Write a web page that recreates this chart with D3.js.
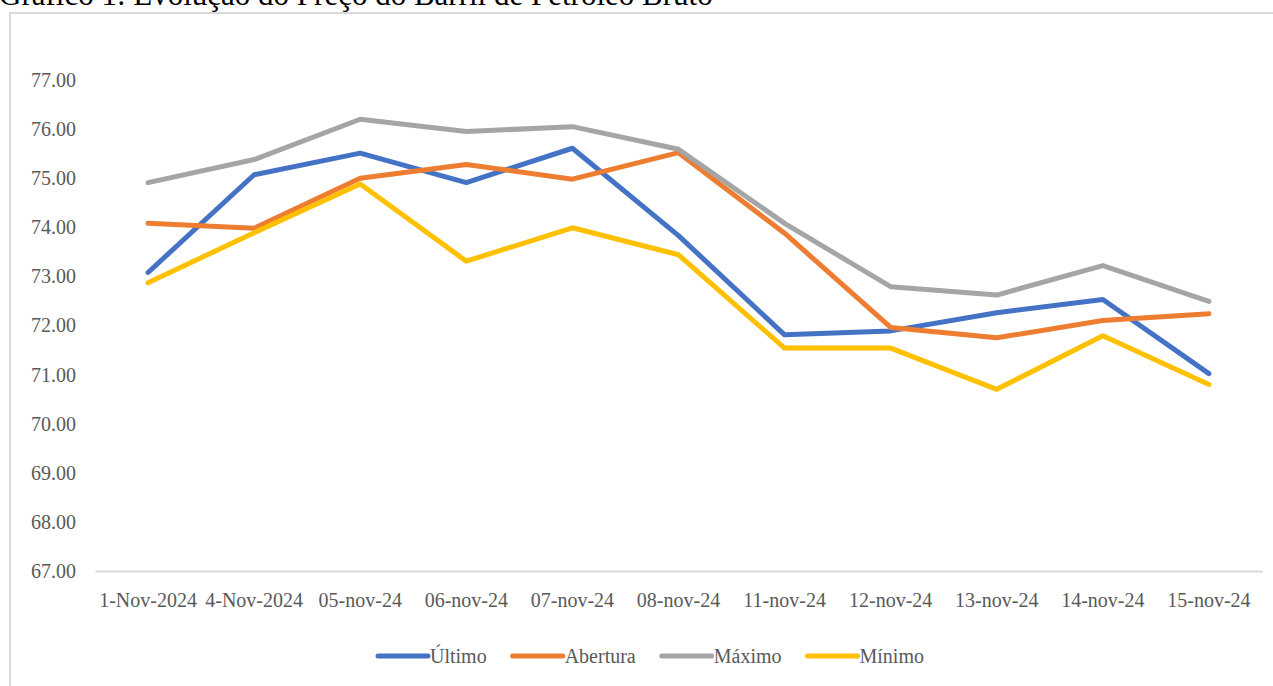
<!DOCTYPE html>
<html>
<head>
<meta charset="utf-8">
<script src="https://cdn.jsdelivr.net/npm/d3@7"></script>
<style>
  html, body { margin: 0; padding: 0; background: #fff; overflow: hidden; }
  svg { display: block; font-family: "Liberation Serif", "Times New Roman", serif; }
</style>
</head>
<body>
<div id="vis"></div>
<script>
// data
const categories = ["1-Nov-2024", "4-Nov-2024", "05-nov-24", "06-nov-24", "07-nov-24", "08-nov-24",
  "11-nov-24", "12-nov-24", "13-nov-24", "14-nov-24", "15-nov-24"];
const ultimo   = [73.08, 75.07, 75.51, 74.91, 75.61, 73.83, 71.81, 71.89, 72.26, 72.53, 71.02];
const abertura = [74.08, 73.98, 75.00, 75.28, 74.98, 75.52, 73.88, 71.96, 71.75, 72.10, 72.24];
const maximo   = [74.91, 75.38, 76.20, 75.95, 76.05, 75.59, 74.08, 72.79, 72.62, 73.22, 72.49];
const minimo   = [72.87, 73.89, 74.88, 73.31, 73.99, 73.44, 71.54, 71.54, 70.70, 71.79, 70.80];
const seriesNames = ["Último", "Abertura", "Máximo", "Mínimo"];
const seriesColors = ["#4472C4", "#ED7D31", "#A5A5A5", "#FFC000"];
const yTicks = [67, 68, 69, 70, 71, 72, 73, 74, 75, 76, 77];
const title = "Gráfico 1: Evolução do Preço do Barril de Petróleo Bruto";

const series = [ultimo, abertura, maximo, minimo].map((values, i) => ({
  name: seriesNames[i], color: seriesColors[i], values
}));

//#region layout
const width = 1273, height = 686;
const plot = { left: 95, right: 1262, top: 80, bottom: 571 };
const textColor = "#595959";
const lineWidth = 5;
//#endregion

const x = d3.scaleBand()
  .domain(categories)
  .range([plot.left, plot.right])
  .padding(0);

const y = d3.scaleLinear()
  .domain([67, 77])
  .range([plot.bottom, plot.top]);

const svg = d3.select("#vis")
  .append("svg")
    .attr("width", width)
    .attr("height", height);

// title, cut off at the top like in the source
svg.append("text")
  .attr("x", -1)
  .attr("y", 5)
  .attr("font-size", 31)
  .attr("fill", "#000")
  .text(title);

// chart frame
svg.append("rect")
  .attr("x", 10)
  .attr("y", 13)
  .attr("width", 1300)
  .attr("height", 700)
  .attr("fill", "none")
  .attr("stroke", "#d9d9d9")
  .attr("stroke-width", 2);

// y axis: labels only
const yAxis = d3.axisLeft(y)
  .tickValues(yTicks)
  .tickFormat(d3.format(".2f"))
  .tickSize(0)
  .tickPadding(0);

svg.append("g")
  .attr("transform", "translate(76,0)")
  .call(yAxis)
  .call(g => g.select(".domain").remove())
  .call(g => g.selectAll("text")
    .attr("font-family", "Liberation Serif, serif")
    .attr("font-size", 20)
    .attr("fill", textColor));

// x axis
const xAxis = d3.axisBottom(x).tickSize(0).tickPadding(0);

svg.append("g")
  .attr("transform", `translate(0,${plot.bottom})`)
  .call(xAxis)
  .call(g => g.select(".domain")
    .attr("stroke", "#d9d9d9")
    .attr("stroke-width", 2))
  .call(g => g.selectAll("text")
    .attr("dy", null)
    .attr("y", 36)
    .attr("font-family", "Liberation Serif, serif")
    .attr("font-size", 20)
    .attr("fill", textColor));

const line = d3.line()
  .x((d, i) => x(categories[i]) + x.bandwidth() / 2)
  .y(d => y(d));

svg.append("g")
  .selectAll("path")
  .data(series)
  .join("path")
    .attr("fill", "none")
    .attr("stroke", d => d.color)
    .attr("stroke-width", lineWidth)
    .attr("stroke-linecap", "round")
    .attr("stroke-linejoin", "round")
    .attr("d", d => line(d.values));

// legend
const legend = svg.append("g").attr("transform", "translate(378,656)");
let lx = 0;
series.forEach(s => {
  legend.append("line")
    .attr("x1", lx).attr("x2", lx + 50)
    .attr("y1", 0).attr("y2", 0)
    .attr("stroke", s.color)
    .attr("stroke-width", lineWidth)
    .attr("stroke-linecap", "round");
  const t = legend.append("text")
    .attr("x", lx + 52)
    .attr("y", 7)
    .attr("font-size", 20)
    .attr("fill", textColor)
    .text(s.name);
  lx += 52 + t.node().getComputedTextLength() + 26;
});
</script>
</body>
</html>
